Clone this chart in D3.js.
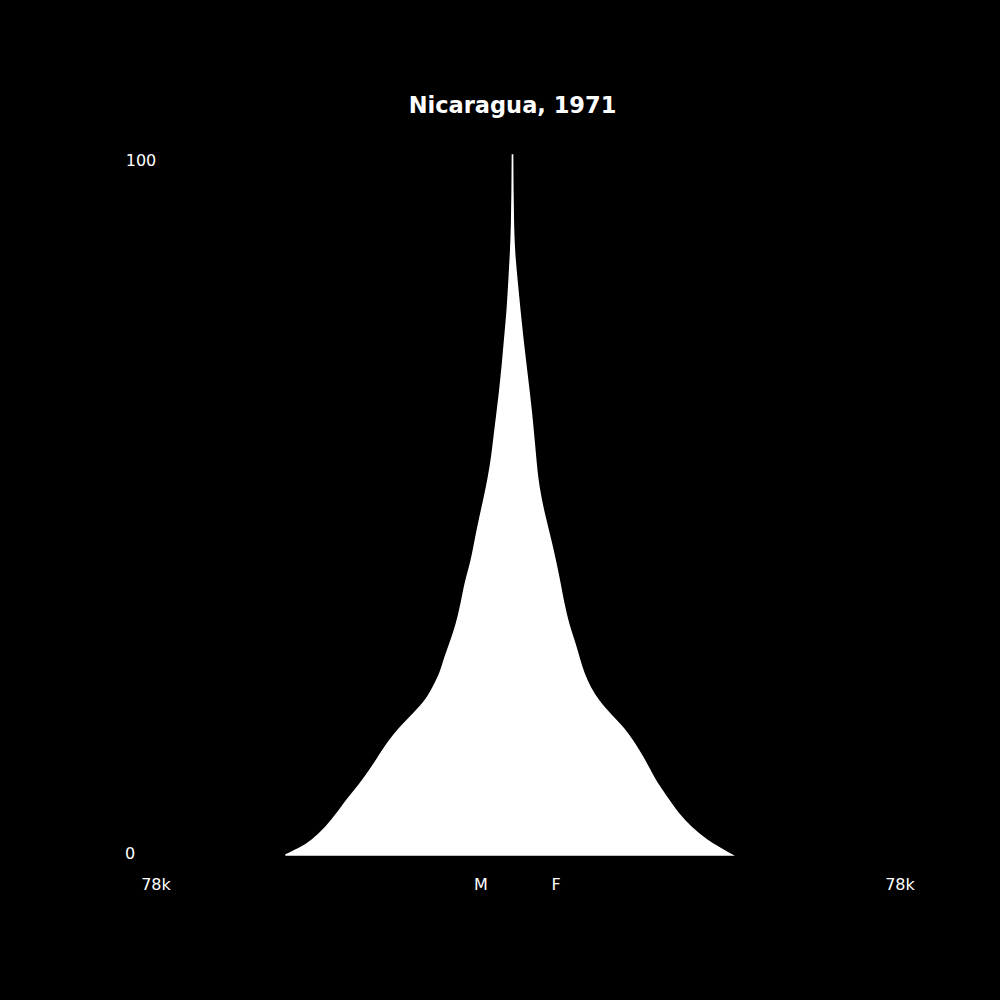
<!DOCTYPE html>
<html>
<head>
<meta charset="utf-8">
<script src="https://cdn.jsdelivr.net/npm/d3@7"></script>
<style>
  html, body { margin: 0; padding: 0; background: #000; }
  text { font-family: "DejaVu Sans", sans-serif; fill: #fff; }
</style>
</head>
<body>
<div id="chart"></div>
<script>
// ages (years) and population in thousands
var ages   = [0, 1, 2, 4, 6, 8, 10, 12, 14, 16, 18, 20, 22, 24, 26, 28, 30, 33, 36, 39, 42, 45, 48, 51, 54, 57, 60, 63, 66, 70, 74, 78, 82, 86, 90, 95, 100];
var male   = [47.6, 44.4, 42.1, 39.0, 36.7, 34.6, 32.1, 30.0, 28.1, 26.2, 23.9, 21.0, 18.2, 16.6, 15.1, 14.3, 13.2, 11.7, 10.7, 9.9, 8.6, 7.8, 6.9, 5.9, 5.0, 4.3, 3.8, 3.25, 2.7, 2.1, 1.6, 1.05, 0.73, 0.38, 0.17, 0.06, 0.02];
var female = [46.0, 43.4, 40.9, 37.3, 34.6, 32.6, 30.5, 28.9, 27.3, 25.5, 23.5, 20.6, 18.0, 16.2, 14.9, 14.0, 13.2, 11.7, 10.7, 9.9, 9.0, 8.0, 6.9, 5.9, 5.2, 4.8, 4.4, 4.0, 3.5, 2.8, 2.1, 1.5, 0.94, 0.38, 0.17, 0.06, 0.02];
var maxPop = 78; // thousands
var title = "Nicaragua, 1971";

var width = 1000, height = 1000;
var cx = 512.5;

var svg = d3.select("#chart").append("svg")
    .attr("width", width)
    .attr("height", height)
    .style("background", "#000");

// scales
var y = d3.scaleLinear().domain([0, 100]).range([855, 155]);
var xM = d3.scaleLinear().domain([0, maxPop]).range([cx, cx - 372]);
var xF = d3.scaleLinear().domain([0, maxPop]).range([cx, cx + 372]);

var data = ages.map(function (a, i) { return { age: a, m: male[i], f: female[i] }; });

var area = d3.area()
    .y(function (d) { return y(d.age); })
    .x0(function (d) { return xM(d.m); })
    .x1(function (d) { return xF(d.f); })
    .curve(d3.curveBasis);

svg.append("path")
    .datum(data)
    .attr("d", area)
    .attr("fill", "#fff")
    .attr("stroke", "#fff")
    .attr("stroke-width", 1.5);

// title
svg.append("text")
    .attr("x", cx)
    .attr("y", 113)
    .attr("text-anchor", "middle")
    .style("font-size", "22.5px")
    .style("font-weight", "bold")
    .text(title);

// age labels
svg.append("text").attr("x", 141).attr("y", 166).attr("text-anchor", "middle")
    .style("font-size", "16px").text("100");
svg.append("text").attr("x", 130).attr("y", 859).attr("text-anchor", "middle")
    .style("font-size", "16px").text("0");

// population labels
svg.append("text").attr("x", 156).attr("y", 890).attr("text-anchor", "middle")
    .style("font-size", "16px").text(maxPop + "k");
svg.append("text").attr("x", 900).attr("y", 890).attr("text-anchor", "middle")
    .style("font-size", "16px").text(maxPop + "k");
svg.append("text").attr("x", 481).attr("y", 890).attr("text-anchor", "middle")
    .style("font-size", "16px").text("M");
svg.append("text").attr("x", 556).attr("y", 890).attr("text-anchor", "middle")
    .style("font-size", "16px").text("F");
</script>
</body>
</html>
